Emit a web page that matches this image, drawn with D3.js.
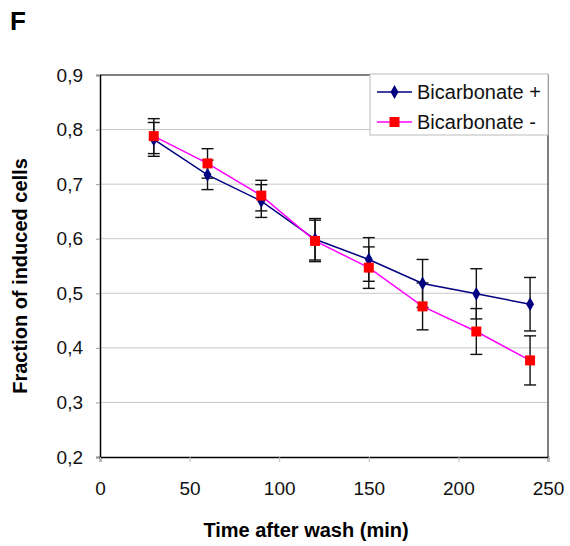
<!DOCTYPE html>
<html>
<head>
<meta charset="utf-8">
<script src="https://cdn.jsdelivr.net/npm/d3@7"></script>
<style>
  body { margin: 0; background: #fff; }
  svg { font-family: "Liberation Sans", Arial, sans-serif; }
</style>
</head>
<body>
<div id="chart"></div>
<script>
// time points (min)
const times = [30, 60, 90, 120, 150, 180, 210, 240];
// Bicarbonate + (mean, error)
const plusValues = [0.782, 0.717, 0.669, 0.599, 0.562, 0.518, 0.499, 0.480];
const plusErrors = [0.031, 0.027, 0.030, 0.038, 0.040, 0.044, 0.046, 0.049];
// Bicarbonate - (mean, error)
const minusValues = [0.788, 0.738, 0.679, 0.596, 0.547, 0.476, 0.430, 0.377];
const minusErrors = [0.032, 0.027, 0.028, 0.038, 0.038, 0.043, 0.042, 0.045];
const xTicks = [0, 50, 100, 150, 200, 250];
const yTicks = [0.2, 0.3, 0.4, 0.5, 0.6, 0.7, 0.8, 0.9];

const width = 570, height = 546;
const margin = {left: 100, right: 22, top: 75, bottom: 89};

const svg = d3.select("#chart").append("svg")
    .attr("width", width)
    .attr("height", height);

const x = d3.scaleLinear().domain([0, 250]).range([margin.left, width - margin.right]);
const y = d3.scaleLinear().domain([0.2, 0.9]).range([height - margin.bottom, margin.top]);

const fmt = d => d3.format(".1f")(d).replace(".", ",");

// gridlines
svg.append("g")
  .selectAll("line")
  .data(yTicks.slice(1, -1))
  .join("line")
    .attr("x1", x(0)).attr("x2", x(250))
    .attr("y1", d => y(d)).attr("y2", d => y(d))
    .attr("stroke", "#c8c8c8");

// plot border (top/right gray)
svg.append("path")
  .attr("d", `M${x(0)},${y(0.9)}H${x(250)}V${y(0.2)}`)
  .attr("fill", "none")
  .attr("stroke", "#555")
  .attr("stroke-width", 1.5);

// y axis
const yAxis = svg.append("g")
  .attr("transform", `translate(${x(0)},0)`)
  .call(d3.axisLeft(y).tickValues(yTicks).tickFormat(fmt).tickSize(4).tickPadding(13));
yAxis.select(".domain").attr("stroke", "#000").attr("stroke-width", 1.5);
yAxis.selectAll(".tick line").attr("stroke", "#999");
yAxis.selectAll("text").attr("font-size", 19).attr("fill", "#111");

// x axis
const xAxis = svg.append("g")
  .attr("transform", `translate(0,${y(0.2)})`)
  .call(d3.axisBottom(x).tickValues(xTicks).tickSize(5).tickPadding(20));
xAxis.select(".domain").attr("stroke", "#000").attr("stroke-width", 1.5);
xAxis.selectAll(".tick line").attr("stroke", "#bbb");
xAxis.selectAll("text").attr("font-size", 19).attr("fill", "#111");

const series = [
  {name: "Bicarbonate +", values: plusValues, errors: plusErrors, line: "#000080", fill: "#000080", shape: d3.symbolDiamond, size: 55},
  {name: "Bicarbonate -", values: minusValues, errors: minusErrors, line: "#ff00ff", fill: "#ff0000", shape: d3.symbolSquare, size: 100}
];

// error bars
series.forEach(s => {
  const g = svg.append("g").attr("stroke", "#111").attr("stroke-width", 1.4);
  times.forEach((t, i) => {
    const lo = y(s.values[i] - s.errors[i]), hi = y(s.values[i] + s.errors[i]);
    g.append("line").attr("x1", x(t)).attr("x2", x(t)).attr("y1", lo).attr("y2", hi);
    g.append("line").attr("x1", x(t) - 6).attr("x2", x(t) + 6).attr("y1", lo).attr("y2", lo);
    g.append("line").attr("x1", x(t) - 6).attr("x2", x(t) + 6).attr("y1", hi).attr("y2", hi);
  });
});

const line = d3.line().x(d => x(d[0])).y(d => y(d[1]));

series.forEach(s => {
  const pts = times.map((t, i) => [t, s.values[i]]);
  svg.append("path")
    .datum(pts)
    .attr("d", line)
    .attr("fill", "none")
    .attr("stroke", s.line)
    .attr("stroke-width", 1.5);
  svg.append("g")
    .selectAll("path")
    .data(pts)
    .join("path")
      .attr("transform", d => `translate(${x(d[0])},${y(d[1])})`)
      .attr("d", d3.symbol().type(s.shape).size(s.size))
      .attr("fill", s.fill);
});

// legend
const legend = svg.append("g").attr("transform", "translate(370,74)");
legend.append("rect")
  .attr("width", 178).attr("height", 61)
  .attr("fill", "#fff").attr("stroke", "#bbb");
series.forEach((s, i) => {
  const gy = 18 + i * 30;
  legend.append("line")
    .attr("x1", 7).attr("x2", 42).attr("y1", gy).attr("y2", gy)
    .attr("stroke", s.line).attr("stroke-width", 1.5);
  legend.append("path")
    .attr("transform", `translate(24.5,${gy})`)
    .attr("d", d3.symbol().type(s.shape).size(s.size))
    .attr("fill", s.fill);
  legend.append("text")
    .attr("x", 47).attr("y", gy + 7)
    .attr("font-size", 20)
    .attr("fill", "#111")
    .text(s.name);
});

// axis titles
svg.append("text")
  .attr("x", 306)
  .attr("y", 537)
  .attr("text-anchor", "middle")
  .attr("font-size", 20)
  .attr("font-weight", "bold")
  .text("Time after wash (min)");

svg.append("text")
  .attr("transform", "translate(27,276) rotate(-90)")
  .attr("text-anchor", "middle")
  .attr("font-size", 20)
  .attr("font-weight", "bold")
  .text("Fraction of induced cells");

svg.append("text")
  .attr("x", 10).attr("y", 30)
  .attr("font-size", 26)
  .attr("font-weight", "bold")
  .text("F");
</script>
</body>
</html>
